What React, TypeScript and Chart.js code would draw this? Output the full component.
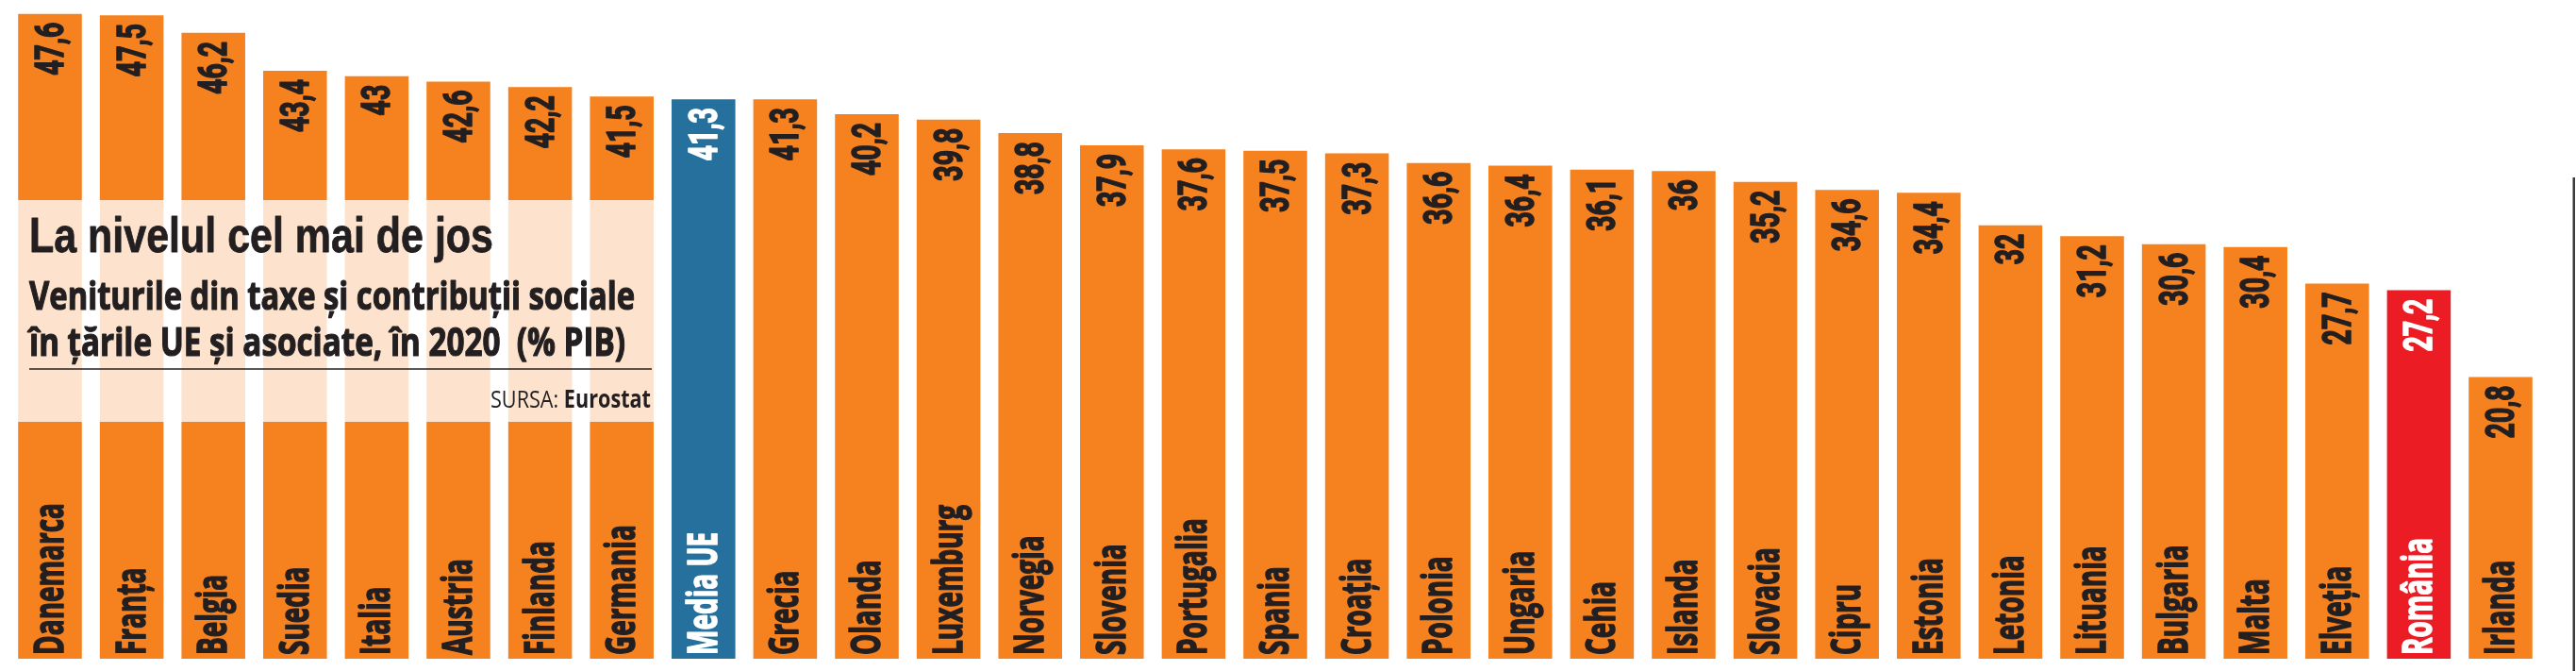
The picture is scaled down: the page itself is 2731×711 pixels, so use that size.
import React, { useEffect, useRef } from "react";
import { Chart, registerables } from "chart.js";

Chart.register(...registerables);

const categories = [
  "Danemarca", "Franța", "Belgia", "Suedia", "Italia", "Austria", "Finlanda", "Germania",
  "Media UE", "Grecia", "Olanda", "Luxemburg", "Norvegia", "Slovenia", "Portugalia", "Spania",
  "Croația", "Polonia", "Ungaria", "Cehia", "Islanda", "Slovacia", "Cipru", "Estonia",
  "Letonia", "Lituania", "Bulgaria", "Malta", "Elveția", "România", "Irlanda",
];

const values = [
  47.6, 47.5, 46.2, 43.4, 43, 42.6, 42.2, 41.5,
  41.3, 41.3, 40.2, 39.8, 38.8, 37.9, 37.6, 37.5,
  37.3, 36.6, 36.4, 36.1, 36, 35.2, 34.6, 34.4,
  32, 31.2, 30.6, 30.4, 27.7, 27.2, 20.8,
];

const titleText = "La nivelul cel mai de jos";
const subtitleLines = [
  "Veniturile din taxe și contribuții sociale",
  "în țările UE și asociate, în 2020  (% PIB)",
];
const sourceLabel = "SURSA: ";
const sourceName = "Eurostat";

const ORANGE = "#F5821F";
const BLUE = "#25709C";
const RED = "#EC1C24";
const DARK = "#231F20";
const highlight: Record<string, string> = { "Media UE": BLUE, "România": RED };

const TITLE_FONT = '"Liberation Sans", Arial, sans-serif';
const SUB_FONT = '"Open Sans", "DejaVu Sans", sans-serif';
const CAT_FONT = '"Open Sans", "DejaVu Sans", sans-serif';
const VAL_FONT = 'Roboto, "DejaVu Sans", sans-serif';

const fmt = (v: number) => String(v).replace(".", ",");

function fillFit(
  ctx: CanvasRenderingContext2D,
  text: string,
  x: number,
  y: number,
  width: number,
  align: "left" | "right",
  stroke: number
) {
  const w = ctx.measureText(text).width;
  const s = width / w;
  ctx.save();
  ctx.translate(x, y);
  ctx.scale(s, 1);
  ctx.textAlign = align;
  ctx.fillText(text, 0, 0);
  if (stroke > 0) {
    ctx.lineWidth = stroke;
    ctx.lineJoin = "round";
    ctx.strokeStyle = ctx.fillStyle as string;
    ctx.strokeText(text, 0, 0);
  }
  ctx.restore();
}

const overlayPlugin = {
  id: "overlayPlugin",
  afterDatasetsDraw(chart: any) {
    const ctx: CanvasRenderingContext2D = chart.ctx;
    const meta = chart.getDatasetMeta(0);

    // translucent info box
    ctx.save();
    ctx.fillStyle = "rgba(255,255,255,0.78)";
    ctx.fillRect(10, 212, 690, 235);
    ctx.restore();

    // squeeze factors
    ctx.save();
    ctx.font = `bold 43px ${CAT_FONT}`;
    const catSq = 161 / ctx.measureText("Danemarca").width;
    ctx.font = `bold 43px ${VAL_FONT}`;
    const valSq = 56 / ctx.measureText("37,5").width;
    ctx.restore();

    meta.data.forEach((bar: any, i: number) => {
      const cat = categories[i];
      const textColor = highlight[cat] ? "#FFFFFF" : DARK;
      const bx = bar.x + 14;
      ctx.save();
      ctx.fillStyle = textColor;
      ctx.strokeStyle = textColor;
      ctx.lineJoin = "round";
      ctx.font = `bold 43px ${VAL_FONT}`;
      ctx.textBaseline = "alphabetic";
      ctx.textAlign = "right";
      ctx.translate(bx, bar.y + 9);
      ctx.rotate(-Math.PI / 2);
      ctx.scale(valSq, 1);
      ctx.fillText(fmt(values[i]), 0, 0);
      ctx.lineWidth = 1.6;
      ctx.strokeText(fmt(values[i]), 0, 0);
      ctx.restore();

      ctx.save();
      ctx.fillStyle = textColor;
      ctx.strokeStyle = textColor;
      ctx.lineJoin = "round";
      ctx.font = `bold 43px ${CAT_FONT}`;
      ctx.textBaseline = "alphabetic";
      ctx.textAlign = "left";
      ctx.translate(bx, bar.base - 4);
      ctx.rotate(-Math.PI / 2);
      ctx.scale(catSq, 1);
      ctx.fillText(cat, 0, 0);
      ctx.lineWidth = 1.6;
      ctx.strokeText(cat, 0, 0);
      ctx.restore();
    });

    // box texts
    ctx.save();
    ctx.fillStyle = DARK;
    ctx.textBaseline = "alphabetic";
    ctx.font = `bold 52px ${TITLE_FONT}`;
    fillFit(ctx, titleText, 31, 267, 492, "left", 0.8);
    ctx.font = `bold 41px ${SUB_FONT}`;
    fillFit(ctx, subtitleLines[0], 31, 328, 642, "left", 1.2);
    fillFit(ctx, subtitleLines[1], 31, 377, 632, "left", 1.2);
    ctx.strokeStyle = DARK;
    ctx.lineWidth = 1.5;
    ctx.beginPath();
    ctx.moveTo(31, 391);
    ctx.lineTo(691, 391);
    ctx.stroke();

    ctx.font = `bold 26px ${SUB_FONT}`;
    const wName = ctx.measureText(sourceName).width;
    ctx.font = `26px ${SUB_FONT}`;
    const wLab = ctx.measureText(sourceLabel).width;
    const s = 170 / (wName + wLab);
    ctx.save();
    ctx.translate(690, 432);
    ctx.scale(s, 1);
    ctx.textAlign = "right";
    ctx.font = `bold 26px ${SUB_FONT}`;
    ctx.fillText(sourceName, 0, 0);
    ctx.font = `26px ${SUB_FONT}`;
    ctx.fillText(sourceLabel, -wName, 0);
    ctx.restore();
    ctx.restore();

    // right border line
    ctx.save();
    ctx.fillStyle = "#3A3A3A";
    ctx.fillRect(2727.5, 188, 2.5, 523);
    ctx.restore();
  },
};

export default function App() {
  const ref = useRef<HTMLCanvasElement | null>(null);
  useEffect(() => {
    document.body.style.margin = "0";
    if (!ref.current) return;
    const chart = new Chart(ref.current, {
      type: "bar",
      data: {
        labels: categories,
        datasets: [
          {
            data: values,
            backgroundColor: categories.map((c) => highlight[c] || ORANGE),
            borderWidth: 0,
            barPercentage: 0.78,
            categoryPercentage: 1,
          },
        ],
      },
      options: {
        animation: false,
        responsive: false,
        maintainAspectRatio: false,
        devicePixelRatio: 1,
        layout: { padding: { left: 9.7, right: 36.7, top: 9, bottom: 13 } },
        plugins: {
          legend: { display: false },
          tooltip: { enabled: false },
          title: { display: false },
        },
        scales: {
          x: { display: false },
          y: { display: false, min: 0, max: 48 },
        },
      },
      plugins: [overlayPlugin],
    });
    const f = (document as any).fonts;
    if (f && f.load) {
      Promise.all([
        f.load(`bold 43px "Open Sans"`),
        f.load(`26px "Open Sans"`),
        f.load(`bold 43px Roboto`),
        f.load(`bold 52px "Liberation Sans"`),
      ]).then(() => chart.draw()).catch(() => {});
    }
    return () => chart.destroy();
  }, []);
  return (
    <div style={{ width: 2731, height: 711, position: "relative", background: "#fff" }}>
      <canvas ref={ref} width={2731} height={711} style={{ width: 2731, height: 711, display: "block" }} />
    </div>
  );
}
